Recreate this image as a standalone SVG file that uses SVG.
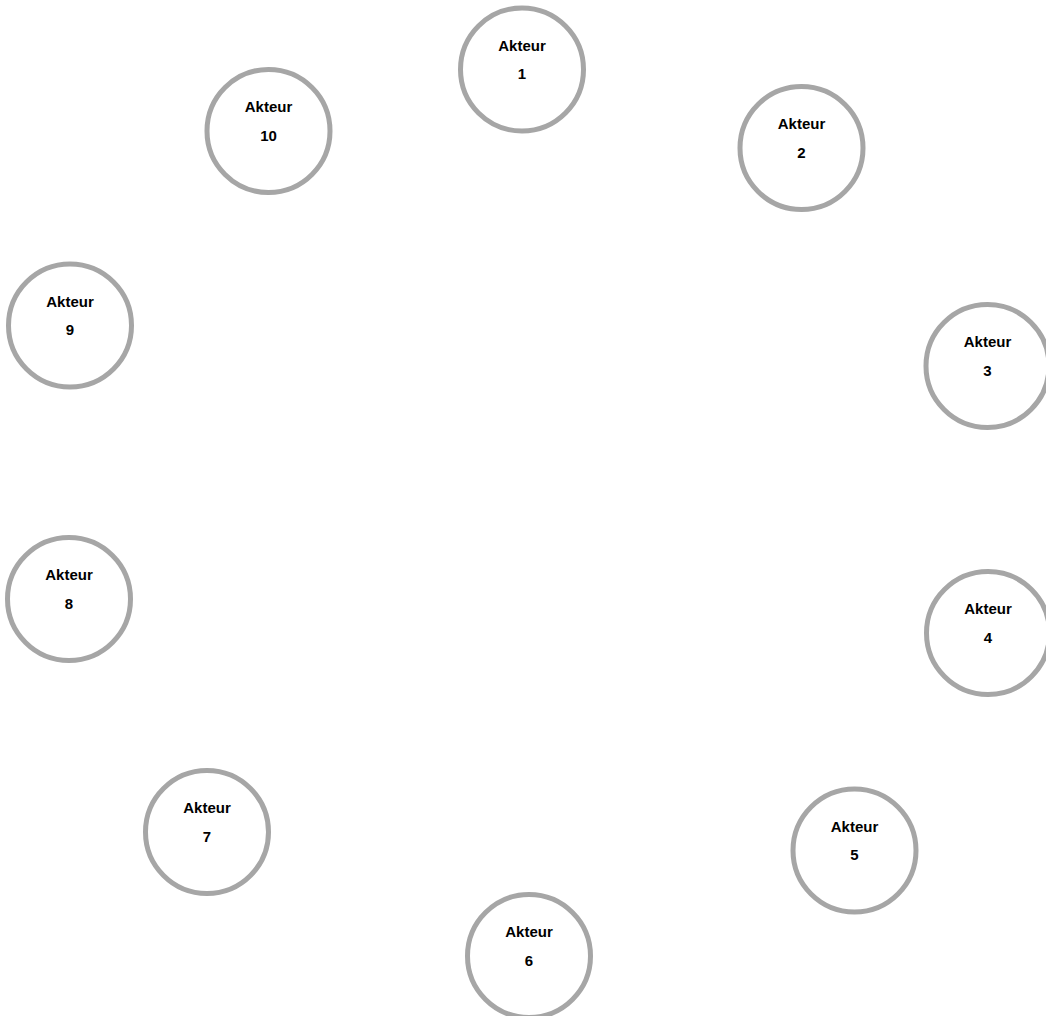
<svg xmlns="http://www.w3.org/2000/svg" width="1046" height="1016" viewBox="0 0 1046 1016">
<style>
.node circle{fill:#fff;stroke:#a6a6a6;stroke-width:5}
.node text{font-family:"Liberation Sans",Arial,sans-serif;font-weight:bold;font-size:15px;fill:#000;text-anchor:middle}
</style>
<rect width="1046" height="1016" fill="#fff"/>
<g id="connectors"></g>
<g id="node1" class="node" transform="translate(522,69.5)"><circle r="61.5"/><text y="-19">Akteur</text><text y="9.5">1</text></g>
<g id="node2" class="node" transform="translate(801.5,148)"><circle r="61.5"/><text y="-19">Akteur</text><text y="9.5">2</text></g>
<g id="node3" class="node" transform="translate(987.5,366)"><circle r="61.5"/><text y="-19">Akteur</text><text y="9.5">3</text></g>
<g id="node4" class="node" transform="translate(988,633)"><circle r="61.5"/><text y="-19">Akteur</text><text y="9.5">4</text></g>
<g id="node5" class="node" transform="translate(854.5,850.5)"><circle r="61.5"/><text y="-19">Akteur</text><text y="9.5">5</text></g>
<g id="node6" class="node" transform="translate(529,956)"><circle r="61.5"/><text y="-19">Akteur</text><text y="9.5">6</text></g>
<g id="node7" class="node" transform="translate(207,832)"><circle r="61.5"/><text y="-19">Akteur</text><text y="9.5">7</text></g>
<g id="node8" class="node" transform="translate(69,599)"><circle r="61.5"/><text y="-19">Akteur</text><text y="9.5">8</text></g>
<g id="node9" class="node" transform="translate(70,325.5)"><circle r="61.5"/><text y="-19">Akteur</text><text y="9.5">9</text></g>
<g id="node10" class="node" transform="translate(268.5,131)"><circle r="61.5"/><text y="-19">Akteur</text><text y="9.5">10</text></g>
</svg>
